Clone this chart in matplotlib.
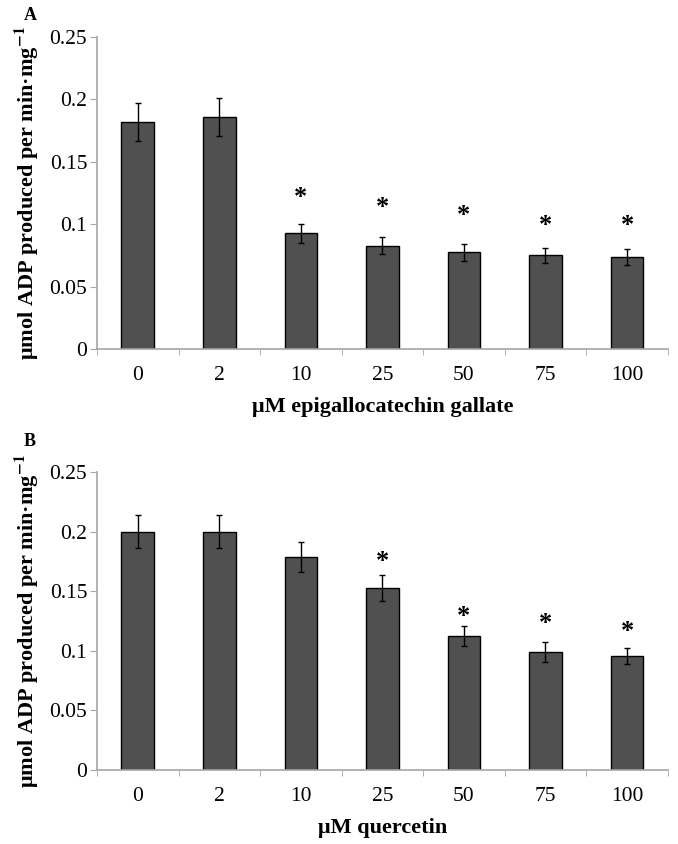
import matplotlib
matplotlib.use('Agg')
import matplotlib.pyplot as plt
import numpy as np

#----- DATA -----

doses=['0','2','10','25','50','75','100']

egcg_mean=[0.182,0.186,0.0928,0.0829,0.0775,0.0751,0.0740]
egcg_err=[0.015,0.015,0.0075,0.0070,0.0068,0.0058,0.0065]
egcg_star=[None,None,0.121,0.1136,0.1067,0.0987,0.0987]

quer_mean=[0.200,0.200,0.179,0.1525,0.1125,0.0990,0.0955]
quer_err=[0.014,0.014,0.0125,0.011,0.0085,0.0080,0.0070]
quer_star=[None,None,None,0.175,0.129,0.1225,0.116]

yticks=[0,0.05,0.1,0.15,0.2,0.25]
ytick_labels=['0','0.05','0.1','0.15','0.2','0.25']

ylabel=r'μmol ADP produced per min·mg$^{\mathbf{-1}}$'

#----- STYLE -----

plt.rcParams['font.family']=['Liberation Serif','DejaVu Serif']
plt.rcParams['mathtext.fontset']='stix'
axis_grey='#a6a6a6'

def panel(ax,mean,err,star,xlabel):
    x=np.arange(len(doses))
    ax.bar(x,mean,width=0.4,color='#505050',edgecolor='black',linewidth=1,zorder=2)
    ax.errorbar(x,mean,yerr=err,fmt='none',ecolor='black',elinewidth=1,capsize=2.5,capthick=1,zorder=3)
    for i in range(len(star)):
        if star[i] is not None:
            ax.text(x[i],star[i],'*',ha='center',va='center',fontsize=19,fontweight='bold')
    ax.set_xlim(-0.5,len(doses)-0.5)
    ax.set_ylim(0,0.25)
    ax.set_yticks(yticks)
    ax.set_yticklabels(ytick_labels,fontsize=15.5)
    ax.set_xticks(x)
    ax.set_xticklabels(doses,fontsize=15.5)
    ax.set_xticks(np.arange(-0.5,len(doses),1),minor=True)
    ax.tick_params(axis='x',which='major',length=0,pad=12)
    ax.tick_params(axis='x',which='minor',length=4,color=axis_grey,direction='out')
    ax.tick_params(axis='y',length=5,color=axis_grey,direction='out',pad=2)
    for s in ['top','right']:
        ax.spines[s].set_visible(False)
    for s in ['left','bottom']:
        ax.spines[s].set_color(axis_grey)
        ax.spines[s].set_linewidth(1.2)
    ax.set_xlabel(xlabel,fontsize=16,fontweight='bold',labelpad=9)
    ax.set_ylabel(ylabel,fontsize=16,fontweight='bold',labelpad=6)

fig=plt.figure(figsize=(6.78,8.44),dpi=100)
axA=fig.add_axes([0.143,0.5865,0.842,0.3697])
axB=fig.add_axes([0.143,0.0877,0.842,0.3531])

panel(axA,egcg_mean,egcg_err,egcg_star,'μM epigallocatechin gallate')
panel(axB,quer_mean,quer_err,quer_star,'μM quercetin')

fig.text(30/678,1-15/844,'A',fontsize=13,fontweight='bold',ha='center',va='center')
fig.text(30/678,1-442/844,'B',fontsize=13,fontweight='bold',ha='center',va='center')

fig.savefig('out.png',dpi=100)
